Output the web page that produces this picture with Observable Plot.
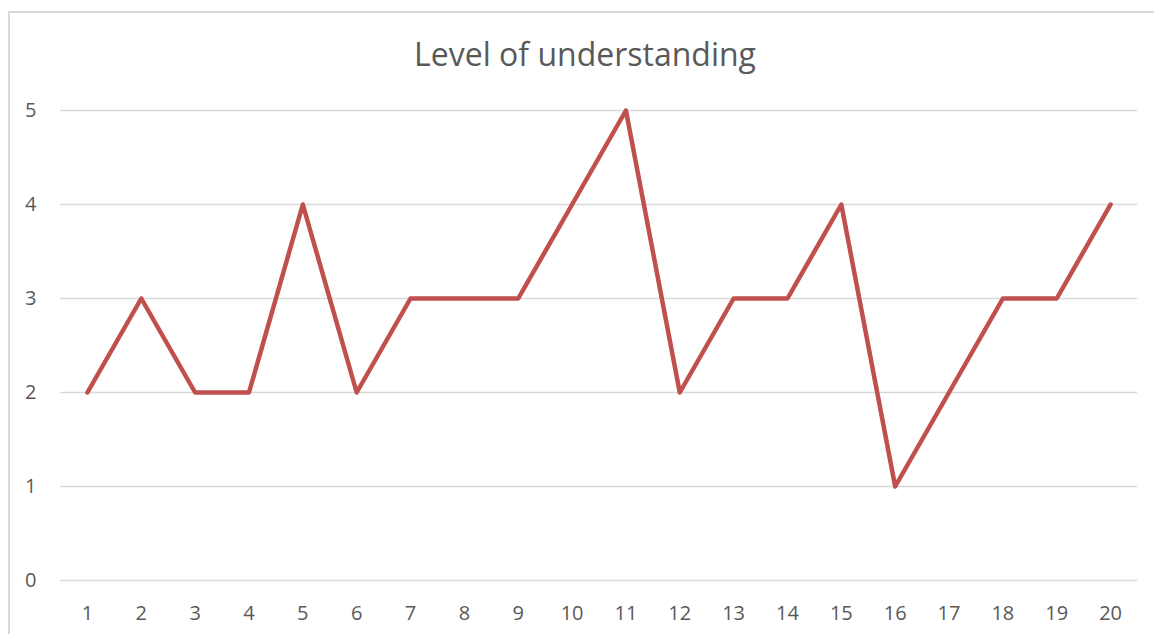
<!DOCTYPE html>
<html>
<head>
<meta charset="utf-8">
<script src="https://cdn.jsdelivr.net/npm/d3@7"></script>
<script src="https://cdn.jsdelivr.net/npm/@observablehq/plot@0.6"></script>
<style>
  html, body { margin: 0; padding: 0; background: #fff; overflow: hidden; }
  #frame { position: absolute; left: 8px; top: 11px; width: 1200px; height: 700px;
           border: 2px solid #d9d9d9; box-sizing: border-box; }
  #title { position: absolute; left: 0; top: 30px; width: 1170px; text-align: center;
           font-family: "Open Sans", sans-serif; font-size: 32px; color: #595959; line-height: 48px; }
  #chart { position: absolute; left: 0; top: 80px; }
</style>
</head>
<body>
<div id="frame"></div>
<div id="title">Level of understanding</div>
<div id="chart"></div>
<script>
const categories = ["1","2","3","4","5","6","7","8","9","10","11","12","13","14","15","16","17","18","19","20"];
const values = [2,3,2,2,4,2,3,3,3,4,5,2,3,3,4,1,2,3,3,4];
const yTicks = [0,1,2,3,4,5];

const data = categories.map((c, i) => ({pos: i + 1, value: values[i]}));
const xTicks = categories.map((c, i) => i + 1);

const plot = Plot.plot({
  width: 1154,
  height: 554,
  marginLeft: 60,
  marginRight: 17,
  marginTop: 30,
  marginBottom: 54,
  style: {fontFamily: "Open Sans, sans-serif", fontSize: "20px", color: "#595959", background: "transparent"},
  x: {type: "linear", domain: [0.5, categories.length + 0.5], label: null},
  y: {domain: [0, 5], label: null},
  marks: [
    Plot.gridY(yTicks, {stroke: "#d9d9d9", strokeOpacity: 1, strokeWidth: 1.5}),
    Plot.axisY(yTicks, {tickSize: 0, tickPadding: 24, label: null, fill: "#595959", tickFormat: d => String(d)}),
    Plot.axisX(xTicks, {tickSize: 0, tickPadding: 25, label: null, fill: "#595959", tickFormat: d => categories[d - 1]}),
    Plot.line(data, {x: "pos", y: "value", stroke: "#C0504D", strokeWidth: 4.5, strokeLinejoin: "round"})
  ]
});
document.getElementById("chart").appendChild(plot);
</script>
</body>
</html>
